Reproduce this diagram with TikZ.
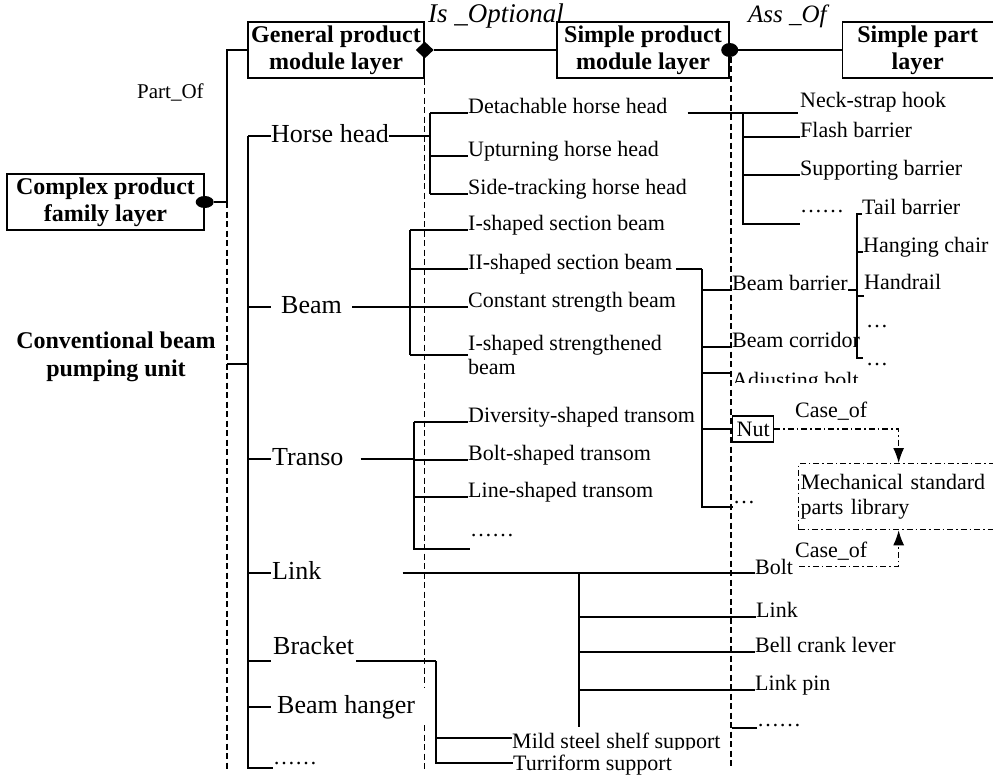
\documentclass[tikz,border=0pt]{standalone}
\usepackage{fontspec}
\setmainfont{Liberation Serif}
\usetikzlibrary{shapes.geometric,arrows.meta}
\tikzset{
  layer/.style={draw, line width=1.4pt, font=\bfseries\fontsize{24}{27}\selectfont, align=center, inner sep=0pt, minimum height=56pt},
  module/.style={font=\fontsize{26}{28}\selectfont, inner sep=0pt, text height=18pt, text depth=6pt, anchor=west},
  item/.style={font=\fontsize{22}{24}\selectfont, inner sep=0pt, anchor=base west},
  rel/.style={font=\itshape\fontsize{27}{28}\selectfont, inner sep=0pt, anchor=base west},
  tick/.style={line width=1.3pt},
  bus/.style={line width=1.6pt},
  feed/.style={line width=2.4pt},
  guide/.style={line width=1.3pt, dash pattern=on 6pt off 3.5pt},
  caseof/.style={line width=1.3pt, dash pattern=on 6pt off 3pt on 1.5pt off 3pt, -{Latex[length=15pt,width=11pt]}},
}
\begin{document}
\begin{tikzpicture}[x=1pt,y=-1pt]
\useasboundingbox (0,0) rectangle (993,776);
\coordinate (g1) at (227,202);
\coordinate (g3) at (731,57);
\coordinate (tr) at (248,364);
\coordinate (bot) at (0,769);

% layers and their relations
\node[layer, minimum width=197pt] (cpf) at (105.5,202) {Complex product\\family layer};
\node[layer, minimum width=176pt] (gpm) at (336,50) {General product\\module layer};
\node[layer, minimum width=172pt] (spm) at (643,50) {Simple product\\module layer};
\node[layer, minimum width=160pt, anchor=west] (spl) at (842,50) {\hspace*{-10pt}Simple part\\\hspace*{-10pt}layer};
\node[ellipse, fill, inner sep=0pt, minimum width=18pt, minimum height=12pt] (pof) at (cpf.east) {};
\node[diamond, fill, inner sep=0pt, minimum width=18pt, minimum height=17pt] (opt) at (gpm.east) {};
\node[ellipse, fill, inner sep=0pt, minimum width=17pt, minimum height=14pt] (ass) at (spm.east) {};
\draw[bus] (pof.east) -- (g1) |- (gpm.west);
\draw[bus] (opt.east) -- (spm.west);
\draw[bus] (ass.east) -- (spl.west);
\node[item, font=\fontsize{21}{24}\selectfont] (pofl) at (137,99) {Part\_Of};
\node[rel] (optl) at (428,23) {Is \_Optional};
\node[rel, font=\itshape\fontsize{25}{28}\selectfont] (assl) at (748,23) {Ass \_Of};

\draw[guide] (g1) -- (g1 |- bot);
\draw[guide] (gpm.south east) -- (gpm.east |- 0,687);
\draw[guide] (gpm.east |- 0,725) -- (gpm.east |- bot);
\draw[guide] (g3) -- (g3 |- bot);

% product and its modules
\node[font=\bfseries\fontsize{24}{28}\selectfont, align=center, inner sep=0pt] (cbu) at (116,357) {Conventional beam\\pumping unit};
\node[module] (hh) at (271,136) {Horse head};
\node[module] (bm) at (281,307) {Beam};
\node[module] (tso) at (272,459) {Transo};
\node[module] (lnk) at (272,573) {Link};
\node[module, anchor=south west] (brk) at (273,661) {Bracket};
\node[module] (bhg) at (277,707) {Beam hanger};
\node[item] (etc1) at (273,764) {……};
\draw[feed] (g1 |- tr) -- (tr);
\draw[bus] (tr |- hh.west) -- (tr);
\draw[feed] (tr) -- (tr |- brk.south west);
\draw[bus] (tr |- brk.south west) |- ([yshift=-4pt]etc1.base west);
\foreach \n in {hh,bm,tso,lnk,bhg}
  \draw[tick] (tr |- \n.west) -- ++(23,0);
\draw[tick] (tr |- brk.south west) -- ++(23,0);

% horse head
\coordinate (jhh) at (430,136);
\node[item] (dhh) at (468,113) {Detachable horse head};
\node[item] (uhh) at (468,156) {Upturning horse head};
\node[item] (shh) at (468,194) {Side-tracking horse head};
\draw[feed] (hh.east) -- (jhh);
\draw[bus] (jhh |- dhh.base west) -- (jhh |- shh.base west);
\foreach \n in {dhh,uhh,shh}
  \draw[tick] (jhh |- \n.base west) -- (\n.base west);

% beam
\coordinate (jbm) at (410,307);
\node[item] (isb) at (468,230) {I-shaped section beam};
\node[item] (iisb) at (468,269) {II-shaped section beam};
\node[item] (csb) at (468,307) {Constant strength beam};
\node[item, anchor=west, align=left] (isbs) at (468,355) {I-shaped strengthened\\beam};
\draw[feed] ([xshift=10pt]bm.east) -- (jbm);
\draw[bus] (jbm |- isb.base west) -- (jbm |- isbs.west);
\foreach \n in {isb,iisb,csb}
  \draw[tick] (jbm |- \n.base west) -- (\n.base west);
\draw[tick] (jbm |- isbs.west) -- (isbs.west);

% transo
\coordinate (jtso) at (414,459);
\node[item] (dst) at (468,422) {Diversity-shaped transom};
\node[item] (bst) at (468,460) {Bolt-shaped transom};
\node[item] (lst) at (468,497) {Line-shaped transom};
\node[item] (etc2) at (470,536) {……};
\draw[feed] ([xshift=17pt]tso.east) -- (jtso);
\draw[bus] (jtso |- dst.base west) |- ([yshift=-13pt]etc2.base west);
\foreach \n in {dst,bst,lst}
  \draw[tick] (jtso |- \n.base west) -- (\n.base west);

% parts of the detachable horse head
\coordinate (jdet) at (743,113);
\node[item] (nsh) at (800,107) {Neck-strap hook};
\node[item] (fb) at (800,137) {Flash barrier};
\node[item] (sb) at (800,175) {Supporting barrier};
\node[item] (etc3) at (800,212) {……};
\draw[feed] ([xshift=20pt]dhh.base east) -- (jdet);
\draw[tick] (jdet) -- ++(55,0);
\draw[bus] (jdet) |- ([yshift=-12pt]etc3.base west);
\foreach \n in {fb,sb}
  \draw[tick] (jdet |- \n.base west) -- (\n.base west);

% parts of the II-shaped section beam
\coordinate (jii) at (702,269);
\node[item] (bb) at (732,290) {Beam barrier};
\node[item] (bc) at (732,347) {Beam corridor};
\begin{scope}
  \clip (700,360) rectangle (900,382);
  \node[item] (ab) at (732,387) {Adjusting bolt};
\end{scope}
\node[item, draw, line width=1.3pt, anchor=west, inner xsep=4pt, minimum height=26pt] (nut) at (732,429) {Nut};
\node[item] (etc4) at (733,503) {…};
\draw[feed] ([xshift=4pt]iisb.base east) -- (jii);
\draw[bus] (jii) |- ([yshift=-4pt]etc4.base west);
\foreach \n in {bb,bc}
  \draw[tick] (jii |- \n.base west) -- (\n.base west);
\draw[tick] (jii |- 0,373) -- (ab.base west |- 0,373);
\draw[tick] (jii |- nut.west) -- (nut.west);

% parts of the beam barrier
\coordinate (jbb) at (857,358);
\node[item] (tb) at (862,214) {Tail barrier};
\node[item] (hc) at (863,252) {Hanging chair};
\node[item] (hr) at (864,289) {Handrail};
\node[item] (etc5) at (866,327) {…};
\node[item] (etc6) at (866,365) {…};
\draw[tick] (bb.base east) -- (jbb |- bb.base east);
\draw[bus] (tb.base west) -| (jbb) -- ++(6,0);
\draw[tick] (jbb |- hc.base west) -- (hc.base west);
\draw[tick] ([yshift=-7pt]hr.base west) -- ++(-7,0);

% link
\coordinate (jlnk) at (579,573);
\node[item] (blt) at (755,574) {Bolt};
\node[item] (lk2) at (756,617) {Link};
\node[item] (bcl) at (755,652) {Bell crank lever};
\node[item] (lp) at (755,690) {Link pin};
\node[item] (etc7) at (757,726) {……};
\draw[feed] ([xshift=81pt]lnk.east) -- (jlnk);
\draw[tick] (jlnk) -- (blt.base west |- jlnk);
\draw[feed] (jlnk) -- (jlnk |- lp.base west);
\draw[bus] (jlnk |- lp.base west) -- ++(0,37);
\foreach \n in {lk2,bcl,lp}
  \draw[tick] (jlnk |- \n.base west) -- (\n.base west);
\draw[tick] ([yshift=-2pt]etc7.base west) -- ++(-25,0);

% bracket
\coordinate (jbrk) at (436,661);
\begin{scope}
  \clip (500,720) rectangle (760,749);
  \node[item] (mss) at (512,748) {Mild steel shelf support};
\end{scope}
\node[item] (tfs) at (513,770) {Turriform support};
\draw[feed] ([xshift=2pt]brk.south east) -- (jbrk);
\draw[bus] (jbrk) |- ([yshift=7pt]tfs.base west);
\draw[tick] (jbrk |- 0,738) -- (mss.base west |- 0,738);

% standard parts library
\node[draw, line width=1.3pt, dash pattern=on 6pt off 3pt on 1.5pt off 3pt, anchor=north west, minimum width=200pt, minimum height=66pt, text width=196pt, inner sep=2pt, align=left, font=\fontsize{22}{25}\selectfont] (msl) at (798,463) {Mechanical standard\\parts library};
\draw[caseof] (nut.east) -| (msl.north);
\draw[caseof] ([xshift=6pt]blt.east) -| (msl.south);
\node[item] (co1) at (795,417) {Case\_of};
\node[item] (co2) at (795,557) {Case\_of};
\end{tikzpicture}
\end{document}
